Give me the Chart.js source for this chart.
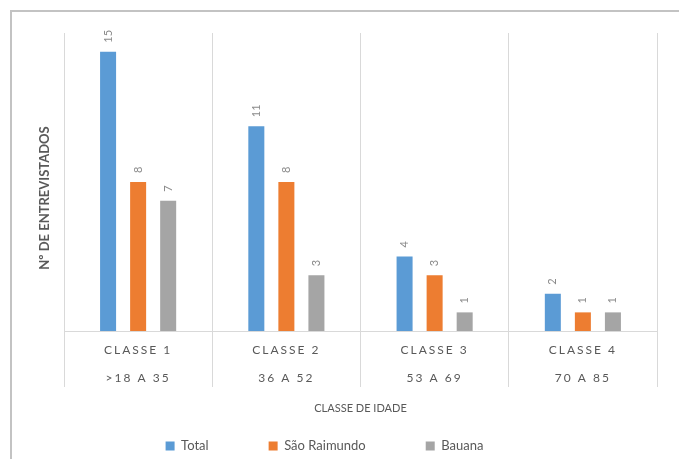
<!DOCTYPE html>
<html><head><meta charset="utf-8">
<script src="https://cdn.jsdelivr.net/npm/chart.js@4"></script>
<style>
html,body{margin:0;padding:0;background:#fff;overflow:hidden;}
#wrap{position:relative;width:679px;height:459px;}
#frame{position:absolute;left:10px;top:10px;width:700px;height:480px;border-left:2px solid #c3c3c3;border-top:2px solid #c3c3c3;pointer-events:none;}
canvas{display:block;}
</style></head><body>
<div id="wrap"><canvas id="c" width="679" height="459"></canvas><div id="frame"></div></div>
<script>
const categoryTop = ["CLASSE 1", "CLASSE 2", "CLASSE 3", "CLASSE 4"];
const categoryRange = [">18 A 35", "36 A 52", "53 A 69", "70 A 85"];
const seriesNames = ["Total", "São Raimundo", "Bauana"];
const totalValues = [15, 11, 4, 2];
const saoRaimundoValues = [8, 8, 3, 1];
const bauanaValues = [7, 3, 1, 1];
const yMin = 0;
const yMax = 16;

const FONT = 'Lato';
const TEXT = '#595959';
const GRID = '#d9d9d9';
const LEGEND_PAD = 60;
const LEGEND_FONT = 13;

const labels = categoryTop.map((t, i) => [t, categoryRange[i]]);

const extras = {
  id: 'extras',
  afterLayout(chart) {
    const lg = chart.legend;
    if (lg) {
      lg.left -= 36; lg.right -= 36;
      lg.top = 446 - LEGEND_PAD - LEGEND_FONT / 2;
      lg.bottom = chart.height;
      lg.height = lg.bottom - lg.top;
    }
  },
  afterDatasetsDraw(chart) {
    const ctx = chart.ctx;
    chart.data.datasets.forEach((ds, i) => {
      const meta = chart.getDatasetMeta(i);
      meta.data.forEach((bar, j) => {
        ctx.save();
        ctx.translate(bar.x, bar.y - 9);
        ctx.rotate(-Math.PI / 2);
        ctx.font = '11px ' + FONT;
        ctx.fillStyle = '#8a8a8a';
        ctx.textAlign = 'left';
        ctx.textBaseline = 'middle';
        ctx.fillText(String(ds.data[j]), 0, 0);
        ctx.restore();
      });
    });
    ctx.letterSpacing = '2px';
  },
  afterDraw(chart) {
    const ctx = chart.ctx;
    ctx.letterSpacing = '0px';
    const a = chart.chartArea;
    ctx.save();
    ctx.translate(a.left - 19, (a.top + a.bottom) / 2 + 16);
    ctx.rotate(-Math.PI / 2);
    ctx.font = 'bold 13px ' + FONT;
    ctx.fillStyle = TEXT;
    ctx.textAlign = 'center';
    ctx.textBaseline = 'middle';
    ctx.fillText('Nº DE ENTREVISTADOS', 0, 0);
    ctx.restore();
  }
};

new Chart(document.getElementById('c'), {
  type: 'bar',
  data: {
    labels: labels,
    datasets: [
      { label: seriesNames[0], data: totalValues, backgroundColor: '#5b9bd5', borderWidth: 0 },
      { label: seriesNames[1], data: saoRaimundoValues, backgroundColor: '#ed7d31', borderWidth: 0 },
      { label: seriesNames[2], data: bauanaValues, backgroundColor: '#a5a5a5', borderWidth: 0 }
    ]
  },
  options: {
    responsive: false,
    animation: false,
    devicePixelRatio: 1,
    categoryPercentage: 0.608,
    barPercentage: 0.533,
    layout: { padding: { left: 64, right: 22, top: 33, bottom: 0 } },
    plugins: {
      tooltip: { enabled: false },
      legend: {
        position: 'bottom',
        maxHeight: 30,
        labels: {
          boxWidth: 9, boxHeight: 9, padding: LEGEND_PAD,
          font: { family: FONT, size: LEGEND_FONT }, color: TEXT
        }
      }
    },
    scales: {
      x: {
        offset: true,
        grid: { offset: true, color: GRID, lineWidth: 1, drawTicks: true, tickLength: 56, tickColor: GRID },
        border: { color: GRID },
        ticks: {
          font: { family: FONT, size: 12, lineHeight: 28 / 12 },
          color: TEXT, padding: -51, maxRotation: 0, autoSkip: false, z: 1
        },
        title: {
          display: true, text: 'CLASSE DE IDADE',
          font: { family: FONT, size: 11 }, color: TEXT,
          padding: { top: 0, bottom: 14.4 }
        },
        afterFit(s) { s.height = 98; }
      },
      y: { display: false, min: yMin, max: yMax }
    }
  },
  plugins: [extras]
});
</script>
</body></html>
